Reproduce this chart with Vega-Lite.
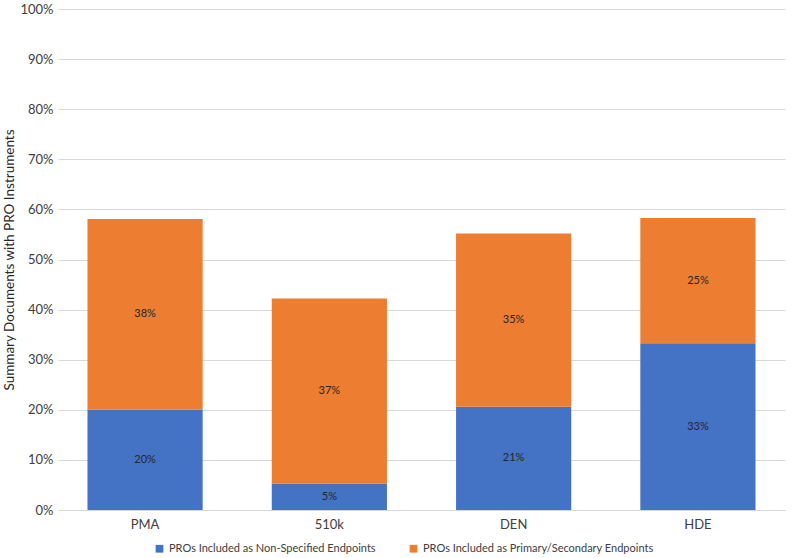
{
  "$schema": "https://vega.github.io/schema/vega-lite/v6.json",
  "width": 727,
  "height": 501,
  "autosize": {"type": "none"},
  "padding": {"left": 58, "top": 9, "right": 15, "bottom": 48},
  "background": "white",
  "config": {
    "view": {"stroke": null},
    "font": "Lato"
  },
  "data": {
    "values": [
      {"cat": "PMA", "series": "PROs Included as Non-Specified Endpoints", "ord": 1, "v": 0.200},
      {"cat": "PMA", "series": "PROs Included as Primary/Secondary Endpoints", "ord": 2, "v": 0.381},
      {"cat": "510k", "series": "PROs Included as Non-Specified Endpoints", "ord": 1, "v": 0.053},
      {"cat": "510k", "series": "PROs Included as Primary/Secondary Endpoints", "ord": 2, "v": 0.369},
      {"cat": "DEN", "series": "PROs Included as Non-Specified Endpoints", "ord": 1, "v": 0.206},
      {"cat": "DEN", "series": "PROs Included as Primary/Secondary Endpoints", "ord": 2, "v": 0.346},
      {"cat": "HDE", "series": "PROs Included as Non-Specified Endpoints", "ord": 1, "v": 0.333},
      {"cat": "HDE", "series": "PROs Included as Primary/Secondary Endpoints", "ord": 2, "v": 0.250}
    ]
  },
  "transform": [
    {"stack": "v", "groupby": ["cat"], "sort": [{"field": "ord"}], "as": ["v0", "v1"]},
    {"calculate": "(datum.v0 + datum.v1) / 2", "as": "vmid"}
  ],
  "encoding": {
    "x": {
      "field": "cat", "type": "nominal", "sort": ["PMA", "510k", "DEN", "HDE"],
      "scale": {"paddingInner": 0.375, "paddingOuter": 0.16},
      "axis": {"title": null, "labelAngle": 0, "ticks": false, "domainColor": "#d9d9d9", "labelFontSize": 13, "labelColor": "#404040", "labelPadding": 8}
    }
  },
  "layer": [
    {
      "mark": {"type": "bar"},
      "encoding": {
        "y": {
          "field": "v0", "type": "quantitative",
          "scale": {"domain": [0, 1]},
          "axis": {
            "title": "Summary Documents with PRO Instruments",
            "format": ".0%", "values": [0,0.1,0.2,0.3,0.4,0.5,0.6,0.7,0.8,0.9,1],
            "labelOverlap": false,
            "ticks": false, "domain": false, "gridColor": "#d9d9d9",
            "labelFontSize": 13, "labelColor": "#404040", "labelPadding": 5,
            "titleFontSize": 13.5, "titleFontWeight": "normal", "titleColor": "#262626", "titlePadding": 3
          }
        },
        "y2": {"field": "v1"},
        "color": {
          "field": "series", "type": "nominal",
          "sort": ["PROs Included as Non-Specified Endpoints", "PROs Included as Primary/Secondary Endpoints"],
          "scale": {"range": ["#4472C4", "#ED7D31"]},
          "legend": {
            "orient": "none", "legendX": 96, "legendY": 534, "direction": "horizontal", "title": null,
            "symbolType": "square", "symbolSize": 60, "labelFontSize": 11, "labelColor": "#404040",
            "labelLimit": 0, "columnPadding": 32, "symbolStrokeWidth": 0
          }
        }
      }
    },
    {
      "mark": {"type": "text", "fontSize": 11, "color": "#262626"},
      "encoding": {
        "y": {"field": "vmid", "type": "quantitative"},
        "text": {"field": "v", "type": "quantitative", "format": ".0%"}
      }
    }
  ]
}
